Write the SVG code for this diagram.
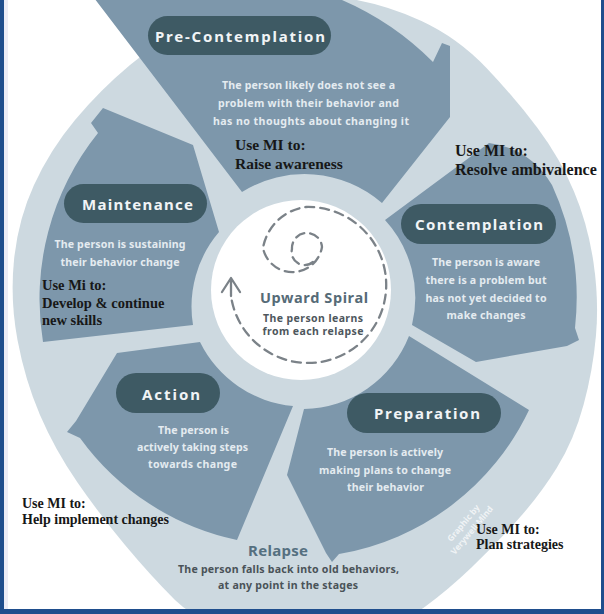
<svg xmlns="http://www.w3.org/2000/svg" width="604" height="614" viewBox="0 0 604 614">
<defs>
<style>
.seg{fill:#7d97ab}
.pill{fill:#3e5a64}
.pl{font-family:"Noto Sans","DejaVu Sans",sans-serif;font-weight:700;font-size:15px;fill:#f1f4f6;text-anchor:middle}
.bt{font-family:"Noto Sans","DejaVu Sans",sans-serif;font-weight:700;font-size:10.6px;fill:#e4ebf0;text-anchor:middle}
.mi{font-family:"Liberation Serif","Times New Roman",serif;font-weight:700;fill:#171717}
.ctr{font-family:"Noto Sans","DejaVu Sans",sans-serif;font-weight:700;text-anchor:middle}
.dash{fill:none;stroke:#7b8288;stroke-width:2.3;stroke-dasharray:9 6;stroke-linecap:round}
</style>
</defs>
<rect x="0" y="0" width="604" height="614" fill="#ffffff"/>
<path id="bg" fill="#cdd9e0" d="M 345,-2 Q 385,4 421.5,21 Q 458,38 486.5,68 Q 515,98 537.5,128 Q 560,158 574,191.5 Q 588,225 593.5,262.5 Q 599,300 596,335 Q 593,370 583.5,405 Q 574,440 557,467.5 Q 540,495 517.5,520 Q 495,545 471.5,567.5 Q 448,590 424,607.5 Q 400,625 350,632.5 Q 300,640 250,632.5 Q 200,625 175,600 Q 150,575 125,545 Q 100,515 77.5,482.5 Q 55,450 40,415 Q 25,380 17.5,340 Q 10,300 14,260 Q 18,220 34,185 Q 50,150 75,120 Q 100,90 130,65 Q 160,40 195,22.5 Q 230,5 267.5,-1.5 Q 305,-8 345,-2 Z"/>

<g id="stage-precontemplation">
<path class="seg" d="M 88,-10 L 343,-10 L 342,0 A 292 292 0 0 1 433,62 L 442,43 L 450,46 L 450,117 L 382,203 A 118 118 0 0 0 242,192 Z"/>
<rect class="pill" x="148" y="16" width="183" height="39" rx="19.5"/>
<text class="pl" x="240" y="42" textLength="170" lengthAdjust="spacing">Pre-Contemplation</text>
<text class="bt" x="308.5" y="89" textLength="173" lengthAdjust="spacing">The person likely does not see a</text>
<text class="bt" x="308.5" y="107" textLength="181" lengthAdjust="spacing">problem with their behavior and</text>
<text class="bt" x="311" y="125" textLength="196" lengthAdjust="spacing">has no thoughts about changing it</text>
</g>

<g id="stage-contemplation">
<path class="seg" d="M 385,220 L 489,143 Q 530,148 552,185 A 272 272 0 0 1 575,328 L 579,340 L 567,346 L 476,362 L 412,325 A 115 115 0 0 0 385,220 Z"/>
<rect class="pill" x="401" y="204" width="155" height="40" rx="20"/>
<text class="pl" x="479" y="230" textLength="128" lengthAdjust="spacing">Contemplation</text>
<text class="bt" x="486" y="266" textLength="108" lengthAdjust="spacing">The person is aware</text>
<text class="bt" x="486" y="284" textLength="121" lengthAdjust="spacing">there is a problem but</text>
<text class="bt" x="486" y="302" textLength="121" lengthAdjust="spacing">has not yet decided to</text>
<text class="bt" x="486" y="319" textLength="79" lengthAdjust="spacing">make changes</text>
</g>

<g id="stage-preparation">
<path class="seg" d="M 409,336 L 529,410 A 258 258 0 0 1 339,554 L 332,562 L 326,553 L 287,475 L 304,409 A 115 115 0 0 0 409,336 Z"/>
<rect class="pill" x="347" y="393" width="154" height="40" rx="20"/>
<text class="pl" x="427" y="419" textLength="106" lengthAdjust="spacing">Preparation</text>
<text class="bt" x="385" y="456" textLength="116" lengthAdjust="spacing">The person is actively</text>
<text class="bt" x="385" y="474" textLength="132" lengthAdjust="spacing">making plans to change</text>
<text class="bt" x="385.5" y="491" textLength="77" lengthAdjust="spacing">their behavior</text>
</g>

<g id="stage-action">
<path class="seg" d="M 293,406 L 237,540 A 260 260 0 0 1 80,438 L 67,432 L 76,421 L 117,353 L 200,342 A 115 115 0 0 0 293,406 Z"/>
<rect class="pill" x="116" y="373" width="104" height="40" rx="20"/>
<text class="pl" x="171" y="400" textLength="58" lengthAdjust="spacing">Action</text>
<text class="bt" x="193.5" y="434" textLength="71" lengthAdjust="spacing">The person is</text>
<text class="bt" x="192.5" y="451" textLength="111" lengthAdjust="spacing">actively taking steps</text>
<text class="bt" x="192.5" y="468" textLength="89" lengthAdjust="spacing">towards change</text>
</g>

<g id="stage-maintenance">
<path class="seg" d="M 193,325 L 43,342 A 265 265 0 0 1 98,133 L 91,123 L 103,108 L 193,145 L 219,232 A 115 115 0 0 0 193,325 Z"/>
<rect class="pill" x="64" y="184" width="143" height="39" rx="19.5"/>
<text class="pl" x="137.5" y="210" textLength="111" lengthAdjust="spacing">Maintenance</text>
<text class="bt" x="120" y="248" textLength="131" lengthAdjust="spacing">The person is sustaining</text>
<text class="bt" x="120" y="266" textLength="119" lengthAdjust="spacing">their behavior change</text>
</g>

<g id="center">
<circle cx="301" cy="290" r="90" fill="#ffffff"/>
<text class="ctr" x="314" y="303" font-size="14.5" fill="#566b77" textLength="108" lengthAdjust="spacing">Upward Spiral</text>
<text class="ctr" x="313" y="322" font-size="10.5" fill="#4e575d" textLength="100" lengthAdjust="spacing">The person learns</text>
<text class="ctr" x="313" y="335" font-size="10.5" fill="#4e575d" textLength="101" lengthAdjust="spacing">from each relapse</text>
</g>

<g id="connectors">
<path class="dash" d="M 313,262 A 13 13 0 0 1 292,249 A 15 15 0 0 1 322,247 A 30 30 0 0 1 263,248 A 50 50 0 0 1 306,207 A 78 78 0 1 1 231,296"/>
<path d="M 222,292 L 231,278 L 240,292 M 231,279 L 231,296" fill="none" stroke="#7b8288" stroke-width="2.3" stroke-linecap="round" stroke-linejoin="round"/>
</g>

<g id="relapse">
<text class="ctr" x="278" y="556" font-size="15" fill="#557080" textLength="60" lengthAdjust="spacing">Relapse</text>
<text class="ctr" x="288.5" y="573" font-size="10.6" fill="#4a5358" textLength="221" lengthAdjust="spacing">The person falls back into old behaviors,</text>
<text class="ctr" x="288" y="589" font-size="10.6" fill="#4a5358" textLength="140" lengthAdjust="spacing">at any point in the stages</text>
</g>

<g id="use-mi">
<text class="mi" x="235" y="150" font-size="15.5">Use MI to:</text>
<text class="mi" x="235" y="169" font-size="15.5">Raise awareness</text>
<text class="mi" x="455" y="156" font-size="16">Use MI to:</text>
<text class="mi" x="455" y="175" font-size="16">Resolve ambivalence</text>
<text class="mi" x="42" y="290" font-size="14.5">Use Mi to:</text>
<text class="mi" x="42" y="308" font-size="14.5">Develop &amp; continue</text>
<text class="mi" x="42" y="325" font-size="14.5">new skills</text>
<text class="mi" x="22" y="508" font-size="14">Use MI to:</text>
<text class="mi" x="22" y="524" font-size="14">Help implement changes</text>
<text class="mi" x="476" y="534" font-size="14">Use MI to:</text>
<text class="mi" x="476" y="549" font-size="14">Plan strategies</text>
</g>

<g id="watermark" transform="translate(468,527) rotate(-50)" opacity="0.7">
<text class="ctr" x="0" y="-3" font-size="8.5" fill="#ffffff">Graphic by</text>
<text class="ctr" x="0" y="8" font-size="8.5" fill="#ffffff">Verywell Mind</text>
</g>

<g id="frame">
<rect x="4" y="0" width="4" height="609" fill="#ececf6"/>
<rect x="0" y="0" width="4" height="614" fill="#1f4e8d"/>
<rect x="601" y="0" width="3" height="614" fill="#1f4e8d"/>
<rect x="0" y="609" width="604" height="5" fill="#1f4e8d"/>
</g>
</svg>
